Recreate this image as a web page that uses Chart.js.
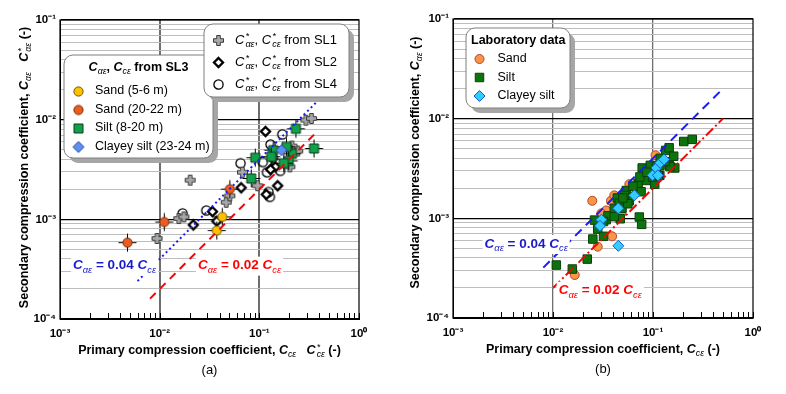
<!doctype html>
<html lang="en">
<head>
<meta charset="utf-8">
<title>Secondary vs primary compression coefficient</title>
<script src="https://cdn.jsdelivr.net/npm/chart.js@4.4.1/dist/chart.umd.min.js"></script>
<style>
  body { margin: 0; background: #fff; }
  #wrap { position: relative; width: 786px; height: 394px; }
  .panel { position: absolute; top: 0; width: 393px; height: 394px; }
</style>
</head>
<body>
<div id="wrap">
  <div class="panel" style="left:0"><canvas id="chartA" width="393" height="394"></canvas></div>
  <div class="panel" style="left:393px"><canvas id="chartB" width="393" height="394"></canvas></div>
</div>
<script>
const FONT = "'Liberation Sans', Arial, sans-serif";

// axis ticks
const xDecades = [0.001, 0.01, 0.1, 1];
const xTickLabels = ['10⁻³', '10⁻²', '10⁻¹', '10⁰'];
const yDecades = [0.0001, 0.001, 0.01, 0.1];
const yTickLabels = ['10⁻⁴', '10⁻³', '10⁻²', '10⁻¹'];
const minorSteps = [2, 3, 4, 5, 6, 7, 8, 9];

// ---- (a) field data: C_ae, C_ce from SL3 ----
const sandShallowX = [0.042, 0.037];
const sandShallowY = [0.00107, 0.00078];
const sandDeepX = [0.0047, 0.011, 0.050];
const sandDeepY = [0.00059, 0.00095, 0.00203];
const siltAX = [0.23, 0.35, 0.136, 0.13, 0.09, 0.082, 0.21, 0.195, 0.174, 0.185];
const siltAY = [0.0082, 0.0052, 0.0050, 0.0043, 0.0042, 0.0026, 0.0046, 0.0039, 0.0037, 0.0054];
const clayeyAX = [0.165];
const clayeyAY = [0.0050];
// C*_ae, C*_ce from SL1, SL2, SL4
const sl1X = [0.020, 0.0093, 0.0154, 0.0173, 0.046, 0.050, 0.067, 0.095, 0.20, 0.24, 0.29, 0.33, 0.21];
const sl1Y = [0.0025, 0.00065, 0.00103, 0.00107, 0.0015, 0.00174, 0.0030, 0.0022, 0.0034, 0.0049, 0.0100, 0.0104, 0.0055];
const sl2X = [0.114, 0.0215, 0.0335, 0.037, 0.065, 0.151, 0.116, 0.143, 0.128, 0.21];
const sl2Y = [0.0077, 0.00089, 0.00121, 0.00097, 0.0021, 0.0022, 0.0018, 0.0034, 0.0032, 0.0052];
const sl4X = [0.064, 0.168, 0.128, 0.107, 0.118, 0.122, 0.126, 0.0168, 0.029, 0.16, 0.147, 0.135];
const sl4Y = [0.0037, 0.0072, 0.0057, 0.0038, 0.0030, 0.0019, 0.0017, 0.00116, 0.00124, 0.0031, 0.0037, 0.0042];
// reference lines (end points)
const lineA04X = [0.006, 0.38];
const lineA04Y = [0.00024, 0.0152];
const lineA02X = [0.008, 0.38];
const lineA02Y = [0.00016, 0.0076];

// ---- (b) laboratory data ----
const sandBX = [0.0247, 0.0165, 0.028, 0.039, 0.038, 0.034, 0.0304, 0.048, 0.058, 0.106, 0.041, 0.063, 0.086];
const sandBY = [0.0015, 0.00027, 0.00052, 0.00066, 0.0015, 0.0012, 0.00112, 0.00112, 0.0022, 0.0043, 0.0017, 0.00185, 0.0028];
const siltBX = [0.0108, 0.0156, 0.022, 0.025, 0.028, 0.032, 0.026, 0.034, 0.0355, 0.041, 0.047, 0.041, 0.044, 0.046, 0.049, 0.054,
  0.058, 0.071, 0.073, 0.077, 0.078, 0.076, 0.086, 0.094, 0.104, 0.117, 0.134, 0.145, 0.161, 0.165, 0.145, 0.117, 0.203, 0.247,
  0.108, 0.074, 0.063, 0.052, 0.056, 0.032, 0.099, 0.087, 0.113, 0.148, 0.118, 0.132, 0.050];
const siltBY = [0.00034, 0.00031, 0.00039, 0.00062, 0.00078, 0.00066, 0.00096, 0.00097, 0.00106, 0.00126, 0.00099, 0.00104, 0.0016,
  0.00142, 0.00126, 0.0019, 0.0015, 0.00225, 0.00103, 0.00087, 0.0032, 0.00185, 0.0024, 0.0034, 0.0022, 0.0027, 0.0048, 0.0051,
  0.0042, 0.0032, 0.0034, 0.0034, 0.0059, 0.0062, 0.0033, 0.0026, 0.0021, 0.0017, 0.0014, 0.00093, 0.0026, 0.0029, 0.0027, 0.0033,
  0.0040, 0.0037, 0.0016];
const clayeyBX = [0.0305, 0.0295, 0.045, 0.065, 0.045, 0.099, 0.108, 0.118, 0.129, 0.112];
const clayeyBY = [0.00097, 0.00084, 0.00126, 0.0017, 0.00053, 0.0027, 0.0032, 0.0036, 0.0039, 0.0027];
const lineB04X = [0.008, 0.5];
const lineB04Y = [0.00032, 0.02];
const lineB02X = [0.01, 0.5];
const lineB02Y = [0.0002, 0.01];

const pts = (xs, ys) => xs.map((x, i) => ({ x: x, y: ys[i] }));

// rich text (italic / sub / sup pieces)
const t = s => ({ text: s });
const it = s => ({ text: s, italic: true });
const sub = s => ({ text: s, italic: true, pos: 'sub' });
const supsub = (a, b) => ({ text: [a, b], italic: true, pos: 'both' });

function partFont(p, size, bold) {
  const small = p.pos === 'sub' || p.pos === 'both';
  const s = small ? size * 0.7 : size;
  return (p.italic ? 'italic ' : '') + (bold && !small ? 'bold ' : '') + s.toFixed(1) + 'px ' + FONT;
}
function partWidth(ctx, p, size, bold) {
  ctx.font = partFont(p, size, bold);
  if (p.pos === 'both') return Math.max(ctx.measureText(p.text[0]).width, ctx.measureText(p.text[1]).width) + 1;
  return ctx.measureText(p.text).width;
}
function richWidth(ctx, parts, size, bold) {
  return parts.reduce((w, p) => w + partWidth(ctx, p, size, bold), 0);
}
function drawRich(ctx, parts, x, y, size, bold, color, align) {
  const w = richWidth(ctx, parts, size, bold);
  let cx = align === 'center' ? x - w / 2 : (align === 'right' ? x - w : x);
  ctx.save();
  ctx.fillStyle = color;
  ctx.textAlign = 'left';
  ctx.textBaseline = 'middle';
  parts.forEach(p => {
    const pw = partWidth(ctx, p, size, bold);
    if (p.pos === 'both') {
      ctx.fillText(p.text[0], cx + 1, y - size * 0.3);
      ctx.fillText(p.text[1], cx + 1, y + size * 0.32);
    } else {
      ctx.fillText(p.text, cx, y + (p.pos === 'sub' ? size * 0.32 : 0));
    }
    cx += pw;
  });
  ctx.restore();
  return w;
}

function roundRect(ctx, x, y, w, h, r) {
  ctx.beginPath();
  ctx.moveTo(x + r, y);
  ctx.arcTo(x + w, y, x + w, y + h, r);
  ctx.arcTo(x + w, y + h, x, y + h, r);
  ctx.arcTo(x, y + h, x, y, r);
  ctx.arcTo(x, y, x + w, y, r);
  ctx.closePath();
}

// marker images for panel (a)
function marker(shape, fill, stroke, bars) {
  const c = document.createElement('canvas');
  c.width = c.height = 22;
  const g = c.getContext('2d');
  g.translate(11, 11);
  if (bars) {
    g.strokeStyle = '#000';
    g.lineWidth = 1;
    g.beginPath();
    g.moveTo(-8.5, 0.5); g.lineTo(9.5, 0.5);
    g.moveTo(0.5, -8.5); g.lineTo(0.5, 9.5);
    g.stroke();
  }
  g.fillStyle = fill;
  g.strokeStyle = stroke;
  g.lineWidth = 1;
  g.beginPath();
  if (shape === 'circle') {
    g.arc(0.5, 0.5, 4.6, 0, Math.PI * 2);
  } else if (shape === 'square') {
    g.rect(-4, -4, 9, 9);
  } else if (shape === 'diamond') {
    g.moveTo(0.5, -5); g.lineTo(6, 0.5); g.lineTo(0.5, 6); g.lineTo(-5, 0.5); g.closePath();
  } else if (shape === 'plus') {
    const a = 1.8, b = 5;
    g.translate(0.5, 0.5);
    g.moveTo(-a, -b); g.lineTo(a, -b); g.lineTo(a, -a); g.lineTo(b, -a); g.lineTo(b, a); g.lineTo(a, a);
    g.lineTo(a, b); g.lineTo(-a, b); g.lineTo(-a, a); g.lineTo(-b, a); g.lineTo(-b, -a); g.lineTo(-a, -a);
    g.closePath();
  } else if (shape === 'blackDiamond') {
    g.moveTo(0.5, -4); g.lineTo(5, 0.5); g.lineTo(0.5, 5); g.lineTo(-4, 0.5); g.closePath();
    g.lineWidth = 2.3;
  } else if (shape === 'ring') {
    g.arc(0.5, 0.5, 4.6, 0, Math.PI * 2);
    g.lineWidth = 1.3;
  }
  if (fill) g.fill();
  g.stroke();
  return c;
}

const mk = {
  sandShallow: ['circle', '#ffc000', '#6b5200'],
  sandDeep: ['circle', '#ef5a1f', '#6b2a08'],
  silt: ['square', '#12a04a', '#0b3f1f'],
  clayey: ['diamond', '#5f8ff0', '#1f3f9f'],
  sl1: ['plus', '#a8a8a8', '#3a3a3a'],
  sl2: ['blackDiamond', '#ffffff', '#000000'],
  sl4: ['ring', null, '#000000']
};
const img = {}, imgLegend = {};
Object.keys(mk).forEach(k => {
  const m = mk[k];
  const bars = ['sandShallow', 'sandDeep', 'silt'].includes(k);
  img[k] = marker(m[0], m[1], m[2], bars);
  imgLegend[k] = marker(m[0], m[1], m[2], false);
});

function decadeLabel(v, decades, labels) {
  const i = decades.findIndex(d => Math.abs(d - v) / d < 1e-6);
  return i >= 0 ? labels[i] : '';
}
function allTicks(decades) {
  const out = [];
  decades.forEach((d, i) => {
    out.push(d);
    if (i < decades.length - 1) minorSteps.forEach(s => out.push(d * s));
  });
  return out;
}
const xTicksAll = allTicks(xDecades);
const yTicksAll = allTicks(yDecades);
const isDecade = v => Math.abs(Math.log10(v) - Math.round(Math.log10(v))) < 1e-6;

function drawLegend(ctx, a, lg) {
  const x = a.left + lg.x, y = a.top + lg.y;
  ctx.save();
  roundRect(ctx, x + 5, y + 5, lg.w, lg.h, 9);
  ctx.fillStyle = '#a6a6a6';
  ctx.fill();
  roundRect(ctx, x, y, lg.w, lg.h, 9);
  ctx.fillStyle = '#fff';
  ctx.fill();
  ctx.strokeStyle = '#7f7f7f';
  ctx.lineWidth = 1;
  ctx.stroke();
  if (lg.title) {
    const tx = lg.titleAlign === 'center' ? x + lg.w / 2 : x + lg.titleX;
    drawRich(ctx, lg.title, tx, y + lg.titleY, 12.5, true, '#000', lg.titleAlign);
  }
  lg.items.forEach(item => {
    ctx.fillStyle = item.fill || '#000';
    ctx.strokeStyle = item.stroke || '#000';
    ctx.lineWidth = 1;
    Chart.helpers.drawPoint(ctx, { pointStyle: item.style, radius: item.radius || 5, rotation: 0, borderWidth: 1 },
      x + lg.markerX, y + item.y);
    drawRich(ctx, item.parts, x + lg.labelX, y + item.y, lg.fontSize, false, '#000', 'left');
  });
  ctx.restore();
}

function makeDecor(cfg) {
  return {
    id: 'decor',
    beforeDatasetsDraw(chart) {
      const ctx = chart.ctx, a = chart.chartArea, xs = chart.scales.x;
      ctx.save();
      ctx.strokeStyle = '#000';
      ctx.lineWidth = 1;
      ctx.beginPath();
      xTicksAll.forEach(v => {
        const px = Math.round(xs.getPixelForValue(v)) + 0.5;
        ctx.moveTo(px, a.bottom);
        ctx.lineTo(px, a.bottom - 6);
      });
      ctx.stroke();
      ctx.restore();
    },
    afterDatasetsDraw(chart) {
      const ctx = chart.ctx, a = chart.chartArea, xs = chart.scales.x, ys = chart.scales.y;
      ctx.save();
      ctx.strokeStyle = '#000';
      ctx.lineWidth = 1.2;
      ctx.strokeRect(a.left, a.top, a.right - a.left, a.bottom - a.top);
      ctx.restore();

      cfg.lineLabels.forEach(l => {
        const x = xs.getPixelForValue(l.x), y = ys.getPixelForValue(l.y);
        const w = richWidth(ctx, l.parts, 13.5, true);
        ctx.fillStyle = '#fff';
        ctx.fillRect(x - 2, y - 9, w + 4, 19);
        drawRich(ctx, l.parts, x, y, 13.5, true, l.color, 'left');
      });

      cfg.legends.forEach(lg => drawLegend(ctx, a, lg));

      const cx = (a.left + a.right) / 2, cy = (a.top + a.bottom) / 2;
      drawRich(ctx, cfg.xTitle, cx, a.bottom + 32, 12.5, true, '#000', 'center');
      ctx.save();
      ctx.translate(cfg.yTitleX, cy + cfg.yTitleDy);
      ctx.rotate(-Math.PI / 2);
      drawRich(ctx, cfg.yTitle, 0, 0, 12.5, true, '#000', 'center');
      ctx.restore();
      drawRich(ctx, [t(cfg.caption)], cx, a.bottom + 51, 13, false, '#000', 'center');
    }
  };
}

function makeChart(id, datasets, cfg) {
  return new Chart(document.getElementById(id), {
    type: 'scatter',
    data: { datasets: datasets },
    plugins: [makeDecor(cfg)],
    options: {
      responsive: false,
      animation: false,
      events: [],
      layout: { padding: { left: 0, top: cfg.top, right: cfg.right, bottom: 0 } },
      plugins: { legend: { display: false }, tooltip: { enabled: false } },
      scales: {
        x: {
          type: 'logarithmic', min: 0.001, max: 1,
          afterBuildTicks: s => { s.ticks = xTicksAll.map(v => ({ value: v })); },
          afterFit: s => { s.height = cfg.xAxisH; },
          ticks: {
            autoSkip: false, maxRotation: 0, padding: 8, color: '#000',
            font: { family: FONT, size: 11.5, weight: 'bold' },
            callback: v => decadeLabel(v, xDecades, xTickLabels)
          },
          grid: {
            drawTicks: false,
            color: c => (c.tick && isDecade(c.tick.value) && c.tick.value > 0.0011 && c.tick.value < 0.9) ? cfg.vGridColor : 'rgba(0,0,0,0)',
            lineWidth: cfg.vGridWidth
          },
          border: { display: true, color: '#000', width: 1 }
        },
        y: {
          type: 'logarithmic', min: 0.0001, max: 0.1,
          afterBuildTicks: s => { s.ticks = yTicksAll.map(v => ({ value: v })); },
          afterFit: s => { s.width = 60; },
          ticks: {
            autoSkip: false, padding: 4, color: '#000',
            font: { family: FONT, size: 11.5, weight: 'bold' },
            callback: v => decadeLabel(v, yDecades, yTickLabels)
          },
          grid: {
            drawTicks: false,
            color: c => (c.tick && isDecade(c.tick.value)) ? '#000' : '#bdbdbd',
            lineWidth: c => (c.tick && isDecade(c.tick.value)) ? 1.2 : 1
          },
          border: { display: true, color: '#000', width: 1 }
        }
      }
    }
  });
}

const lineSet = (xs, ys, color, dash) => ({
  data: pts(xs, ys), showLine: true, pointRadius: 0, borderColor: color,
  borderWidth: 2, borderDash: dash, fill: false
});
const imgSet = (xs, ys, key) => ({
  data: pts(xs, ys), pointStyle: img[key], pointRadius: 6, backgroundColor: '#000', borderColor: '#000'
});

// panel (a)
makeChart('chartA', [
  lineSet(lineA04X, lineA04Y, '#1a1aff', [2, 3]),
  lineSet(lineA02X, lineA02Y, '#ff0000', [8, 6]),
  imgSet(clayeyAX, clayeyAY, 'clayey'),
  imgSet(siltAX, siltAY, 'silt'),
  imgSet(sandDeepX, sandDeepY, 'sandDeep'),
  imgSet(sandShallowX, sandShallowY, 'sandShallow'),
  imgSet(sl1X, sl1Y, 'sl1'),
  imgSet(sl2X, sl2Y, 'sl2'),
  imgSet(sl4X, sl4Y, 'sl4')
], {
  top: 20, right: 34, xAxisH: 75,
  vGridColor: '#6e6e6e', vGridWidth: 2,
  yTitleX: 25, yTitleDy: -2,
  caption: '(a)',
  xTitle: [t('Primary compression coefficient, '), it('C'), sub('cε'), t('   '), it('C'), supsub('*', 'cε'), t(' (-)')],
  yTitle: [t('Secondary compression coefficient, '), it('C'), sub('αε'), t('   '), it('C'), supsub('*', 'αε'), t(' (-)')],
  lineLabels: [
    { x: 0.00135, y: 0.000343, color: '#1a1acc', parts: [it('C'), sub('αε'), t(' = 0.04 '), it('C'), sub('cε')] },
    { x: 0.0242, y: 0.000343, color: '#ff0000', parts: [it('C'), sub('αε'), t(' = 0.02 '), it('C'), sub('cε')] }
  ],
  legends: [
    {
      x: 4, y: 35, w: 149, h: 103, titleAlign: 'center', titleY: 13,
      title: [it('C'), sub('αε'), t(', '), it('C'), sub('cε'), t(' from SL3')],
      markerX: 14, labelX: 31, fontSize: 12.5,
      items: [
        { style: imgLegend.sandShallow, y: 36, parts: [t('Sand (5-6 m)')] },
        { style: imgLegend.sandDeep, y: 54.5, parts: [t('Sand (20-22 m)')] },
        { style: imgLegend.silt, y: 73, parts: [t('Silt (8-20 m)')] },
        { style: imgLegend.clayey, y: 91.5, parts: [t('Clayey silt (23-24 m)')] }
      ]
    },
    {
      x: 144, y: 4, w: 145, h: 73,
      markerX: 14, labelX: 31, fontSize: 13,
      items: [
        { style: imgLegend.sl1, y: 16, parts: [it('C'), supsub('*', 'αε'), t(', '), it('C'), supsub('*', 'cε'), t(' from SL1')] },
        { style: imgLegend.sl2, y: 38, parts: [it('C'), supsub('*', 'αε'), t(', '), it('C'), supsub('*', 'cε'), t(' from SL2')] },
        { style: imgLegend.sl4, y: 60, parts: [it('C'), supsub('*', 'αε'), t(', '), it('C'), supsub('*', 'cε'), t(' from SL4')] }
      ]
    }
  ]
});

// panel (b)
const sandB = { fill: '#f79646', stroke: '#b8442a' };
const siltB = { fill: '#0d740d', stroke: '#0a3f0a' };
const clayB = { fill: '#33ccff', stroke: '#1060d0' };
makeChart('chartB', [
  lineSet(lineB04X, lineB04Y, '#1a1aff', [9, 6]),
  lineSet(lineB02X, lineB02Y, '#ff0000', [10, 3, 2, 3]),
  { data: pts(clayeyBX, clayeyBY), pointStyle: 'rectRot', pointRadius: 5.5, backgroundColor: clayB.fill, borderColor: clayB.stroke, borderWidth: 1 },
  { data: pts(siltBX, siltBY), pointStyle: 'rect', pointRadius: 6, backgroundColor: siltB.fill, borderColor: siltB.stroke, borderWidth: 1 },
  { data: pts(sandBX, sandBY), pointStyle: 'circle', pointRadius: 4.5, backgroundColor: sandB.fill, borderColor: sandB.stroke, borderWidth: 1 }
], {
  top: 19, right: 33, xAxisH: 76,
  vGridColor: '#6e6e6e', vGridWidth: 1.3,
  yTitleX: 23, yTitleDy: -6,
  caption: '(b)',
  xTitle: [t('Primary compression coefficient, '), it('C'), sub('cε'), t(' (-)')],
  yTitle: [t('Secondary compression coefficient, '), it('C'), sub('αε'), t(' (-)')],
  lineLabels: [
    { x: 0.00207, y: 0.000553, color: '#1a1acc', parts: [it('C'), sub('αε'), t(' = 0.04 '), it('C'), sub('cε')] },
    { x: 0.0114, y: 0.000188, color: '#ff0000', parts: [it('C'), sub('αε'), t(' = 0.02 '), it('C'), sub('cε')] }
  ],
  legends: [
    {
      x: 13, y: 9, w: 104, h: 80, titleAlign: 'left', titleX: 5, titleY: 12.5,
      title: [t('Laboratory data')],
      markerX: 13.5, labelX: 31.5, fontSize: 12.5,
      items: [
        { style: 'circle', radius: 4.5, fill: sandB.fill, stroke: sandB.stroke, y: 31, parts: [t('Sand')] },
        { style: 'rect', radius: 6, fill: siltB.fill, stroke: siltB.stroke, y: 49.5, parts: [t('Silt')] },
        { style: 'rectRot', radius: 5.5, fill: clayB.fill, stroke: clayB.stroke, y: 68, parts: [t('Clayey silt')] }
      ]
    }
  ]
});
</script>
</body>
</html>
